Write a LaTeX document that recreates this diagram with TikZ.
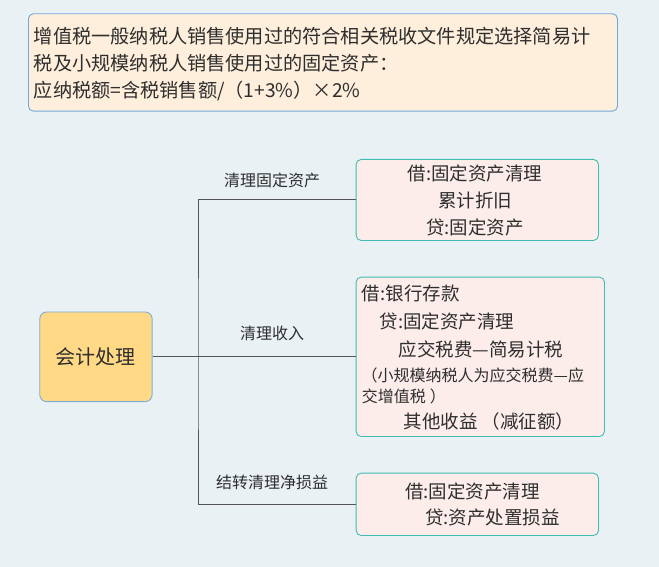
\documentclass[tikz,border=0pt]{standalone}
\usepackage{fontspec}
\setmainfont{Noto Sans CJK SC}
\definecolor{bg}{HTML}{EAF1F5}
\definecolor{txt}{HTML}{2E2E2E}
\definecolor{topfill}{HTML}{FEEEDC}
\definecolor{topline}{HTML}{6FA8DC}
\definecolor{rootfill}{HTML}{FFD986}
\definecolor{rootline}{HTML}{7AAED6}
\definecolor{boxfill}{HTML}{FCEDEB}
\definecolor{boxline}{HTML}{3FBDB0}
\definecolor{wire}{HTML}{555555}
\tikzset{
  frame/.style={draw, rectangle, rounded corners=5pt, line width=0.9pt, inner sep=0pt, anchor=north west},
  topbox/.style={frame, fill=topfill, draw=topline},
  rootbox/.style={frame, fill=rootfill, draw=rootline, rounded corners=7pt},
  entrybox/.style={frame, fill=boxfill, draw=boxline},
  bigtxt/.style={inner sep=0pt, text=txt, font=\fontsize{19.2}{19.2}\selectfont},
  midtxt/.style={inner sep=0pt, text=txt, font=\fontsize{18.5}{18.5}\selectfont},
  smalltxt/.style={inner sep=0pt, text=txt, font=\fontsize{16}{16}\selectfont},
  wireline/.style={draw=wire, line width=0.9pt}
}
\begin{document}
\begin{tikzpicture}[x=1pt,y=-1pt]
\fill[bg] (0,0) rectangle (659,567);
\useasboundingbox (0,0) rectangle (659,567);

% top box
\node[topbox, minimum width=589pt, minimum height=97.4pt] (top) at (28,13.3) {};
\node[bigtxt, anchor=west] (t1) at (33.6,36) {增值税一般纳税人销售使用过的符合相关税收文件规定选择简易计};
\node[bigtxt, anchor=west] (t2) at (33.6,63.3) {税及小规模纳税人销售使用过的固定资产：};
\node[bigtxt, anchor=west] (t3) at (33.6,90.7) {应纳税额=含税销售额/（1+3\%）×2\%};

% root
\node[rootbox, minimum width=112.4pt, minimum height=89.7pt] (root) at (39.3,311.5) {};
\node[inner sep=0pt, text=txt, font=\fontsize{20}{20}\selectfont] (rootlbl) at (root.center) {会计处理};

% entry boxes
\node[entrybox, minimum width=242.3pt, minimum height=81pt] (b1) at (355.7,159) {};
\node[entrybox, minimum width=248.3pt, minimum height=159.3pt] (b2) at (355.7,276.7) {};
\node[entrybox, minimum width=242.3pt, minimum height=62.3pt] (b3) at (355.7,472.7) {};

% box 1 text
\node[midtxt] (b1a) at (475,173.3) {借:固定资产清理};
\node[midtxt] (b1b) at (475,200.7) {累计折旧};
\node[midtxt] (b1c) at (475,227.3) {贷:固定资产};

% box 2 text
\node[midtxt, anchor=west] (b2a) at (361.7,293.3) {借:银行存款};
\node[midtxt, anchor=west] (b2b) at (379.3,321.7) {贷:固定资产清理};
\node[midtxt, anchor=west] (b2c) at (398.3,349) {应交税费—简易计税};
\node[smalltxt, anchor=west] (b2d) at (361.5,375) {（小规模纳税人为应交税费—应};
\node[smalltxt, anchor=west] (b2e) at (361.7,396.7) {交增值税\hspace{4pt}）};
\node[midtxt, anchor=west] (b2f) at (403.3,421.7) {其他收益 （减征额）};

% box 3 text
\node[midtxt, anchor=west] (b3a) at (405,491.7) {借:固定资产清理};
\node[midtxt, anchor=west] (b3b) at (425,518) {贷:资产处置损益};

% connectors
\coordinate (fork) at (198,356.3);
\draw[wireline] (root.east) -- (b2.west);
\draw[wireline] (b1.west) -| (fork) |- (b3.west);

% branch labels
\node[smalltxt] (l1) at (272,180.7) {清理固定资产};
\node[smalltxt] (l2) at (272,333) {清理收入};
\node[smalltxt] (l3) at (272,482.7) {结转清理净损益};
\end{tikzpicture}
\end{document}
